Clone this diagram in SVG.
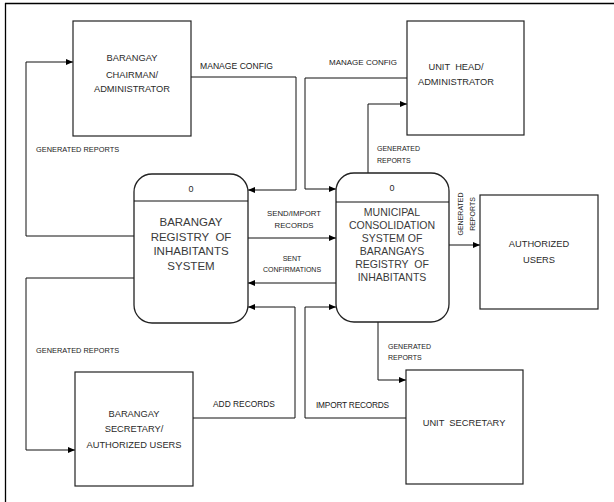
<svg xmlns="http://www.w3.org/2000/svg" width="614" height="502" viewBox="0 0 614 502" xml:space="preserve">
<style>
.box{fill:#fff;stroke:#222;stroke-width:1.2}
.proc{fill:#fff;stroke:#222;stroke-width:1.3}
.ln{fill:none;stroke:#111;stroke-width:1}
.t{font-family:"Liberation Sans",Arial,sans-serif;fill:#2a2a2a;text-anchor:middle;white-space:pre}
.bt{font-size:9.3px}
.pt{font-size:11.5px;fill:#3a3a3a}
.mt{font-size:10.5px;fill:#3a3a3a}
.lb{font-family:"Liberation Sans",Arial,sans-serif;fill:#1a1a1a}
</style>
<defs>
<marker id="ah" markerWidth="7" markerHeight="6" refX="7" refY="3" orient="auto" markerUnits="userSpaceOnUse">
<path d="M0,0 L7,3 L0,6 Z" fill="#000"/>
</marker>
</defs>
<rect width="614" height="502" fill="#fff"/>
<g id="frame">
<line x1="5" y1="3.5" x2="614" y2="3.5" stroke="#000" stroke-width="1.3"/>
<line x1="5.5" y1="3" x2="5.5" y2="502" stroke="#000" stroke-width="1.3"/>
</g>

<g id="connectors">
<polyline class="ln" points="191,77 296,77 296,190 248,190" marker-end="url(#ah)"/>
<text class="lb" x="200" y="69" font-size="8.6">MANAGE CONFIG</text>
<polyline class="ln" points="134,236 26,236 26,62 73,62" marker-end="url(#ah)"/>
<text class="lb" x="36" y="152" font-size="7.4">GENERATED REPORTS</text>
<polyline class="ln" points="407,78 305,78 305,189 336,189" marker-end="url(#ah)"/>
<text class="lb" x="329" y="65" font-size="8">MANAGE CONFIG</text>
<polyline class="ln" points="368,173 368,104 407,104" marker-end="url(#ah)"/>
<text class="lb" x="377" y="151" font-size="7">GENERATED</text>
<text class="lb" x="377" y="163" font-size="7">REPORTS</text>
<line class="ln" x1="248" y1="238" x2="336" y2="238" marker-end="url(#ah)"/>
<text class="lb" x="294" y="216" font-size="7.8" text-anchor="middle">SEND/IMPORT</text>
<text class="lb" x="294" y="228" font-size="7.8" text-anchor="middle">RECORDS</text>
<line class="ln" x1="336" y1="283" x2="248" y2="283" marker-end="url(#ah)"/>
<text class="lb" x="292" y="261" font-size="7" text-anchor="middle">SENT</text>
<text class="lb" x="292" y="272" font-size="7" text-anchor="middle">CONFIRMATIONS</text>
<line class="ln" x1="449" y1="245" x2="480" y2="245" marker-end="url(#ah)"/>
<text class="lb" font-size="7" text-anchor="middle" transform="translate(463,214) rotate(-90)">GENERATED</text>
<text class="lb" font-size="7" text-anchor="middle" transform="translate(475,214) rotate(-90)">REPORTS</text>
<polyline class="ln" points="134,278 26,278 26,450 75,450" marker-end="url(#ah)"/>
<text class="lb" x="36" y="353" font-size="7.4">GENERATED REPORTS</text>
<polyline class="ln" points="193,418 295,418 295,307 248,307" marker-end="url(#ah)"/>
<text class="lb" x="213" y="407" font-size="8.4">ADD RECORDS</text>
<polyline class="ln" points="378,322 378,380 406,380" marker-end="url(#ah)"/>
<text class="lb" x="388" y="349" font-size="7">GENERATED</text>
<text class="lb" x="388" y="360" font-size="7">REPORTS</text>
<polyline class="ln" points="406,418 305,418 305,307 336,307" marker-end="url(#ah)"/>
<text class="lb" x="316" y="408" font-size="8.3" letter-spacing="-0.2">IMPORT RECORDS</text>
</g>

<g id="chairman">
<rect class="box" x="73" y="21" width="118" height="115"/>
<text class="t bt" x="132" y="61">BARANGAY</text>
<text class="t bt" x="132" y="78">CHAIRMAN/</text>
<text class="t bt" x="132" y="92">ADMINISTRATOR</text>
</g>

<g id="unit-head">
<rect class="box" x="407" y="21" width="117" height="114"/>
<text class="t bt" x="456" y="70">UNIT  HEAD/</text>
<text class="t bt" x="456" y="85">ADMINISTRATOR</text>
</g>

<g id="barangay-system">
<path class="proc" d="M152,174 H230 A18,18 0 0 1 248,192 V305 A18,18 0 0 1 230,323 H152 A18,18 0 0 1 134,305 V192 A18,18 0 0 1 152,174 Z"/>
<line class="ln" x1="134" y1="201" x2="248" y2="201" stroke="#222"/>
<text class="t" x="191" y="192" font-size="9">0</text>
<text class="t pt" x="191" y="226">BARANGAY</text>
<text class="t pt" x="191" y="241">REGISTRY  OF</text>
<text class="t pt" x="191" y="255">INHABITANTS</text>
<text class="t pt" x="191" y="270">SYSTEM</text>
</g>

<g id="municipal-system">
<path class="proc" d="M354,173 H431 A18,18 0 0 1 449,191 V304 A18,18 0 0 1 431,322 H354 A18,18 0 0 1 336,304 V191 A18,18 0 0 1 354,173 Z"/>
<line class="ln" x1="336" y1="202" x2="449" y2="202" stroke="#222"/>
<text class="t" x="392" y="191" font-size="9">0</text>
<text class="t mt" x="392" y="216">MUNICIPAL</text>
<text class="t mt" x="392" y="229">CONSOLIDATION</text>
<text class="t mt" x="392" y="242">SYSTEM OF</text>
<text class="t mt" x="392" y="255">BARANGAYS</text>
<text class="t mt" x="392" y="268">REGISTRY  OF</text>
<text class="t mt" x="392" y="281">INHABITANTS</text>
</g>

<g id="authorized-users">
<rect class="box" x="480" y="195" width="118" height="114"/>
<text class="t bt" x="539" y="247">AUTHORIZED</text>
<text class="t bt" x="539" y="263">USERS</text>
</g>

<g id="barangay-secretary">
<rect class="box" x="75" y="372" width="118" height="114"/>
<text class="t bt" x="134" y="417">BARANGAY</text>
<text class="t bt" x="134" y="432">SECRETARY/</text>
<text class="t bt" x="134" y="448">AUTHORIZED USERS</text>
</g>

<g id="unit-secretary">
<rect class="box" x="406" y="370" width="117" height="114"/>
<text class="t bt" x="464" y="426">UNIT  SECRETARY</text>
</g>
</svg>
